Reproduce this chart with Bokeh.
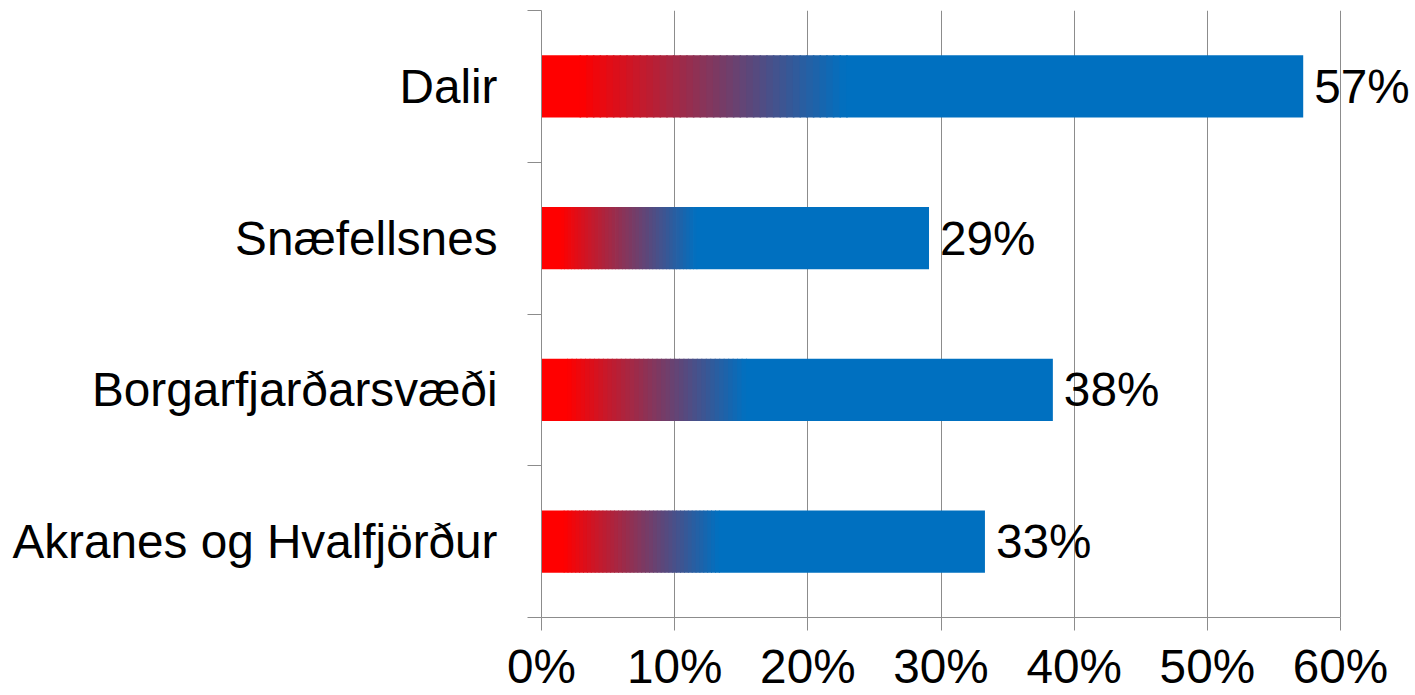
from bokeh.plotting import figure
from bokeh.models import Range1d, FixedTicker, LabelSet, ColumnDataSource
from bokeh.core.properties import value
from bokeh.embed import file_html
from bokeh.resources import INLINE

# data (bottom to top)
categories = ["Akranes og Hvalfjörður", "Borgarfjarðarsvæði", "Snæfellsnes", "Dalir"]
values = [0.333, 0.384, 0.291, 0.572]
x_ticks = [0.0, 0.1, 0.2, 0.3, 0.4, 0.5, 0.6]
x_tick_labels = ["0%", "10%", "20%", "30%", "40%", "50%", "60%"]

FONT = "Liberation Sans"
GRAY = "#8c8c8c"

W, H = 1415, 695
LEFT, TOP, RIGHT_AX = 541, 10, 1340
x_end = 0.6 * (W - LEFT) / (RIGHT_AX - LEFT)

p = figure(width=W, height=H, output_backend="svg", toolbar_location=None,
           x_range=Range1d(0, x_end), y_range=Range1d(0, 4),
           min_border_left=LEFT, min_border_right=0, min_border_top=TOP,
           min_border_bottom=78)
p.outline_line_color = None
p.background_fill_color = "white"
p.border_fill_color = "white"

ypos = [i + 0.5 for i in range(len(categories))]

# gradient bars: solid red start, red -> blue ramp, solid blue remainder
red = (255, 0, 0)
blue = (0, 112, 192)
n_steps = 40
g0, g1 = 0.05, 0.40
ov = 0.002  # small horizontal overlap between adjacent pieces (fraction of bar)

def hexcol(t):
    c = tuple(int(round(red[j] + (blue[j] - red[j]) * t)) for j in range(3))
    return "#%02x%02x%02x" % c

pieces = [(0.0, g0, 0.0)]
for k in range(n_steps):
    a = g0 + (g1 - g0) * k / n_steps
    b = g0 + (g1 - g0) * (k + 1) / n_steps
    pieces.append((a, b, (k + 0.5) / n_steps))
pieces.append((g1, 1.0, 1.0))

for a, b, t in pieces:
    bb = b if b >= 1.0 else b + ov
    src = ColumnDataSource(dict(y=ypos, left=[v * a for v in values],
                                right=[v * bb for v in values]))
    p.hbar(y="y", left="left", right="right", height=0.41, source=src,
           fill_color=hexcol(t), line_color=None)

# value labels
lab_src = ColumnDataSource(dict(x=values, y=ypos,
                                txt=["%d%%" % round(v * 100) for v in values]))
labels = LabelSet(x="x", y="y", text="txt", source=lab_src, x_offset=11,
                  text_align="left", text_baseline="middle",
                  text_font=value(FONT), text_font_size=value("47.7px"),
                  text_color=value("black"))
p.add_layout(labels)

# x axis
xa = p.xaxis[0]
xa.bounds = (0, 0.6)
xa.ticker = FixedTicker(ticks=x_ticks, minor_ticks=[])
xa.major_label_overrides = {t: l for t, l in zip(x_ticks, x_tick_labels)}
xa.major_label_text_font = FONT
xa.major_label_text_font_size = "47.7px"
xa.major_label_text_color = "black"
xa.major_label_standoff = 9
xa.major_tick_out = 13
xa.major_tick_in = 0
xa.major_tick_line_color = GRAY
xa.axis_line_color = GRAY
xa.minor_tick_line_color = None

# y axis
ya = p.yaxis[0]
ya.ticker = FixedTicker(ticks=ypos, minor_ticks=[0, 1, 2, 3, 4])
ya.major_label_overrides = {y: c for y, c in zip(ypos, categories)}
ya.major_label_text_font = FONT
ya.major_label_text_font_size = "47.7px"
ya.major_label_text_color = "black"
ya.major_tick_line_color = None
ya.major_tick_out = 0
ya.major_tick_in = 0
ya.major_label_standoff = 30
ya.minor_tick_out = 14
ya.minor_tick_in = 0
ya.minor_tick_line_color = GRAY
ya.axis_line_color = GRAY

p.xgrid.ticker = FixedTicker(ticks=x_ticks)
p.xgrid.grid_line_color = GRAY
p.ygrid.grid_line_color = None

open("out.html", "w").write(file_html(p, INLINE))
